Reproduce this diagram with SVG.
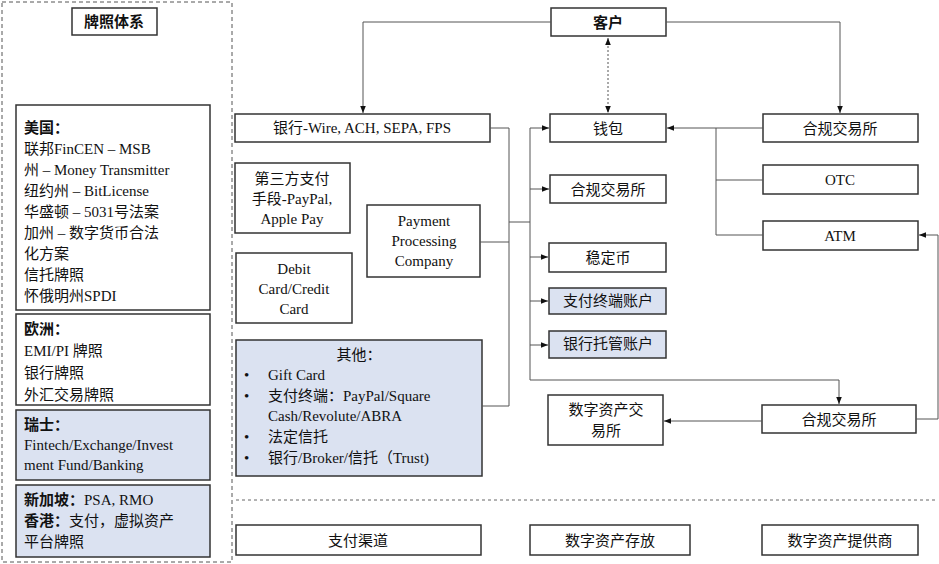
<svg xmlns="http://www.w3.org/2000/svg" width="939" height="564" viewBox="0 0 939 564">
<style>
text{font-family:"Liberation Serif","Noto Sans CJK SC",serif;font-size:15px;fill:#111}
.b{fill:#fff;stroke:#333;stroke-width:1.5}
.u{fill:#dbe2f1;stroke:#333;stroke-width:1.5}
.c{text-anchor:middle}
.l{fill:none;stroke:#555;stroke-width:1}
</style>
<defs><marker id="a" viewBox="0 0 10 10" refX="10" refY="5" markerWidth="7" markerHeight="7" orient="auto-start-reverse"><path d="M0,1L10,5L0,9z" fill="#111"/></marker></defs>
<rect x="2" y="2" width="230" height="560" fill="none" stroke="#555" stroke-dasharray="4,3"/>
<line x1="236" y1="500" x2="938" y2="500" stroke="#666" stroke-dasharray="3,3"/>
<g id="g-title"><rect class="b" x="72" y="8" width="85" height="27"/><text class="c" x="114" y="27" font-weight="bold">牌照体系</text></g>
<g id="us"><rect class="b" x="16" y="105" width="194" height="205"/>
<text x="24" y="133"><tspan font-weight="bold">美国：</tspan><tspan x="24" dy="21">联邦FinCEN – MSB</tspan><tspan x="24" dy="21">州 – Money Transmitter</tspan><tspan x="24" dy="21">纽约州 – BitLicense</tspan><tspan x="24" dy="21">华盛顿 – 5031号法案</tspan><tspan x="24" dy="21">加州 – 数字货币合法</tspan><tspan x="24" dy="21">化方案</tspan><tspan x="24" dy="21">信托牌照</tspan><tspan x="24" dy="21">怀俄明州SPDI</tspan></text></g>
<g id="eu"><rect class="b" x="16" y="314" width="194" height="91"/>
<text x="24" y="334"><tspan font-weight="bold">欧洲：</tspan><tspan x="24" dy="22">EMI/PI 牌照</tspan><tspan x="24" dy="22">银行牌照</tspan><tspan x="24" dy="22">外汇交易牌照</tspan></text></g>
<g id="ch"><rect class="u" x="16" y="410" width="194" height="70"/>
<text x="24" y="430"><tspan font-weight="bold">瑞士：</tspan><tspan x="24" dy="20">Fintech/Exchange/Invest</tspan><tspan x="24" dy="20">ment Fund/Banking</tspan></text></g>
<g id="sg"><rect class="u" x="16" y="485" width="194" height="72"/>
<text x="24" y="505"><tspan font-weight="bold">新加坡：</tspan>PSA, RMO<tspan x="24" dy="21" font-weight="bold">香港：</tspan>支付，虚拟资产<tspan x="24" dy="21">平台牌照</tspan></text></g>
<g id="kehu"><rect class="b" x="551" y="8" width="115" height="28"/><text class="c" x="608" y="28" font-weight="bold">客户</text></g>
<g id="bank"><rect class="b" x="235" y="114" width="255" height="28"/><text class="c" x="362" y="133">银行-Wire, ACH, SEPA, FPS</text></g>
<g id="third"><rect class="b" x="235" y="163" width="115" height="70"/><text class="c" x="292" y="184">第三方支付<tspan x="292" dy="20">手段-PayPal,</tspan><tspan x="292" dy="20">Apple Pay</tspan></text></g>
<g id="debit"><rect class="b" x="236" y="253" width="116" height="70"/><text class="c" x="294" y="274">Debit<tspan x="294" dy="20">Card/Credit</tspan><tspan x="294" dy="20">Card</tspan></text></g>
<g id="ppc"><rect class="b" x="367" y="205" width="113" height="72"/><text class="c" x="424" y="226">Payment<tspan x="424" dy="20">Processing</tspan><tspan x="424" dy="20">Company</tspan></text></g>
<g id="other"><rect class="u" x="236" y="340" width="246" height="136"/>
<text class="c" x="359" y="360">其他：</text>
<text x="244" y="380">•<tspan x="268">Gift Card</tspan><tspan x="244" dy="21">•</tspan><tspan x="268">支付终端：PayPal/Square</tspan><tspan x="268" dy="20">Cash/Revolute/ABRA</tspan><tspan x="244" dy="21">•</tspan><tspan x="268">法定信托</tspan><tspan x="244" dy="21">•</tspan><tspan x="268">银行/Broker/信托（Trust)</tspan></text></g>
<g id="wallet"><rect class="b" x="550" y="114" width="116" height="28"/><text class="c" x="608" y="134">钱包</text></g>
<g id="ex1"><rect class="b" x="550" y="175" width="116" height="28"/><text class="c" x="608" y="195">合规交易所</text></g>
<g id="stable"><rect class="b" x="549" y="243" width="117" height="29"/><text class="c" x="608" y="263">稳定币</text></g>
<g id="payacc"><rect class="u" x="549" y="288" width="117" height="26"/><text class="c" x="608" y="306" font-size="13">支付终端账户</text></g>
<g id="bankacc"><rect class="u" x="549" y="331" width="117" height="27"/><text class="c" x="608" y="349" font-size="13">银行托管账户</text></g>
<g id="dex"><rect class="b" x="548" y="395" width="115" height="50"/><text class="c" x="606" y="415">数字资产交<tspan x="606" dy="21">易所</tspan></text></g>
<g id="ex2"><rect class="b" x="763" y="114" width="155" height="28"/><text class="c" x="840" y="134">合规交易所</text></g>
<g id="otc"><rect class="b" x="763" y="165" width="155" height="29"/><text class="c" x="840" y="185">OTC</text></g>
<g id="atm"><rect class="b" x="763" y="221" width="155" height="29"/><text class="c" x="840" y="241">ATM</text></g>
<g id="ex3"><rect class="b" x="762" y="405" width="154" height="28"/><text class="c" x="839" y="425">合规交易所</text></g>
<g id="f1"><rect class="b" x="236" y="525" width="245" height="30"/><text class="c" x="358" y="546">支付渠道</text></g>
<g id="f2"><rect class="b" x="530" y="525" width="160" height="30"/><text class="c" x="610" y="546">数字资产存放</text></g>
<g id="f3"><rect class="b" x="762" y="525" width="156" height="30"/><text class="c" x="840" y="546">数字资产提供商</text></g>
<g id="connectors">
<path class="l" d="M551,22H363V113" marker-end="url(#a)"/>
<path class="l" d="M666,22H840V113" marker-end="url(#a)"/>
<path class="l" d="M608,38V113" stroke-dasharray="2,2" marker-start="url(#a)" marker-end="url(#a)"/>
<path class="l" d="M490,128H509V406H482"/>
<path class="l" d="M480,242H509"/>
<path class="l" d="M509,222H530"/>
<path class="l" d="M530,128V380H839V404" marker-end="url(#a)"/>
<path class="l" d="M530,128H549" marker-end="url(#a)"/>
<path class="l" d="M530,189H549" marker-end="url(#a)"/>
<path class="l" d="M530,257H548" marker-end="url(#a)"/>
<path class="l" d="M530,301H548" marker-end="url(#a)"/>
<path class="l" d="M530,345H548" marker-end="url(#a)"/>
<path class="l" d="M763,128H667" marker-end="url(#a)"/>
<path class="l" d="M716,128V235H763M716,180H763"/>
<path class="l" d="M916,419H938V235H919" marker-end="url(#a)"/>
<path class="l" d="M762,421H664" marker-end="url(#a)"/>
</g>
</svg>
